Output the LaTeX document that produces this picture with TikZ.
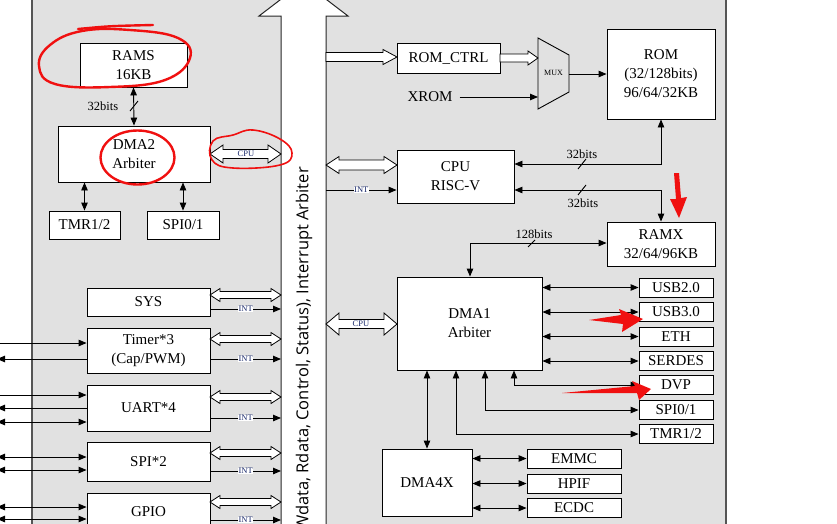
\documentclass[tikz,border=0pt]{standalone}
\usepackage{fontspec}
\setmainfont{Liberation Serif}
\newfontfamily\busfont{Open Sans}
\usetikzlibrary{arrows.meta,calc}
\definecolor{bggray}{HTML}{E1E1E1}
\definecolor{edgegray}{HTML}{555555}
\definecolor{navy}{HTML}{1A2A6C}
\definecolor{mark}{HTML}{F01010}
\tikzset{
  box/.style={draw=black, fill=white, line width=0.9pt, inner sep=0pt, align=center,
    font=\fontsize{15}{19}\selectfont},
  conn/.style={draw=black, line width=0.9pt},
  hollow/.style={draw=black, fill=white, line width=0.8pt, line join=miter},
  lbl/.style={inner sep=0pt, font=\fontsize{12.5}{14}\selectfont},
  tiny/.style={fill=white, inner sep=0.6pt, text=navy, font=\fontsize{8.5}{9}\selectfont},
  redmark/.style={draw=mark, line width=2.4pt, line cap=round, line join=round},
  redfill/.style={fill=mark},
  >={Triangle[length=8pt,width=6.5pt]}
}
\newcommand\hollowLR[6]{\draw[hollow] (#1,#3) -- ({#1+#6},{#3-#5}) -- ({#1+#6},{#3-#4}) -- ({#2-#6},{#3-#4}) -- ({#2-#6},{#3-#5}) -- (#2,#3) -- ({#2-#6},{#3+#5}) -- ({#2-#6},{#3+#4}) -- ({#1+#6},{#3+#4}) -- ({#1+#6},{#3+#5}) -- cycle;}
\newcommand\hollowR[6]{\draw[hollow] (#1,{#3-#4}) -- ({#2-#6},{#3-#4}) -- ({#2-#6},{#3-#5}) -- (#2,#3) -- ({#2-#6},{#3+#5}) -- ({#2-#6},{#3+#4}) -- (#1,{#3+#4}) -- cycle;}
\begin{document}
\begin{tikzpicture}[x=1pt,y=-1pt]
\useasboundingbox (0,0) rectangle (837,523);
\clip (0,0) rectangle (837,523);
\fill[white] (0,0) rectangle (837,523);
% gray chip area
\fill[bggray] (32,-5) rectangle (726,530);
\draw[edgegray, line width=1.3pt] (32,-5) -- (32,530) (726,-5) -- (726,530);
% bus
\draw[hollow, draw=black!85, line width=1pt] (281,530) -- (281,16) -- (259,16) -- (303.5,-18) -- (348,16) -- (326,16) -- (326,530);
\node[rotate=90, anchor=east, inner sep=0pt, font=\busfont\fontsize{16.5}{19}\selectfont] (bustext) at (304,167) {(Wdata, Rdata, Control, Status), Interrupt Arbiter};
\coordinate (busL) at (281,0);
\coordinate (busR) at (326,0);

% ---------- left column ----------
\node[box, minimum width=107pt, minimum height=44pt] (rams) at (133.5,65) {RAMS\\16KB};
\node[box, minimum width=152pt, minimum height=56pt] (dma2) at (134,154) {DMA2\\Arbiter};
\node[box, minimum width=71pt, minimum height=28pt] (tmrL) at (84.5,225) {TMR1/2};
\node[box, minimum width=72pt, minimum height=28pt] (spiL) at (183,225) {SPI0/1};
\draw[conn,<->] (rams.south) -- (dma2.north);
\draw[conn] (130,111) -- (138,101);
\node[lbl] (b32a) at (103,106) {32bits};
\draw[conn,<->] (tmrL.north |- dma2.south) -- (tmrL.north);
\draw[conn,<->] (spiL.north |- dma2.south) -- (spiL.north);
\hollowLR{210}{281}{154}{4.5}{9}{13}
\node[tiny] (cpuA) at (246,154) {CPU};

% peripherals
\node[box, minimum width=123pt, minimum height=28pt] (sys) at (148.5,302) {SYS};
\node[box, minimum width=123pt, minimum height=45pt] (timer) at (148.5,350.5) {Timer*3\\(Cap/PWM)};
\node[box, minimum width=123pt, minimum height=46pt] (uart) at (148.5,408) {UART*4};
\node[box, minimum width=123pt, minimum height=39pt] (spi2) at (148.5,461.5) {SPI*2};
\node[box, minimum width=123pt, minimum height=38pt] (gpio) at (148.5,512) {GPIO};

\hollowLR{210}{281}{295}{3.5}{6.5}{10}
\hollowLR{210}{281}{339}{3.5}{6.5}{10}
\hollowLR{210}{281}{397}{3.5}{6.5}{10}
\hollowLR{210}{281}{453}{3.5}{6.5}{10}
\hollowLR{210}{281}{502}{3.5}{6.5}{10}
\draw[conn,->] (sys.east |- 0,309) -- (busL |- 0,309) node[tiny, midway] {INT};
\draw[conn,->] (timer.east |- 0,359) -- (busL |- 0,359) node[tiny, midway] {INT};
\draw[conn,->] (uart.east |- 0,418) -- (busL |- 0,418) node[tiny, midway] {INT};
\draw[conn,->] (spi2.east |- 0,471) -- (busL |- 0,471) node[tiny, midway] {INT};
\draw[conn,->] (gpio.east |- 0,520) -- (busL |- 0,520) node[tiny, midway] {INT};

% external pins
\draw[conn,->] (-10,343) -- (timer.west |- 0,343);
\draw[conn,->] (timer.west |- 0,359) -- (-3,359);
\draw[conn,->] (-10,395) -- (uart.west |- 0,395);
\draw[conn,->] (uart.west |- 0,408) -- (-3,408);
\draw[conn,<->] (-3,422) -- (uart.west |- 0,422);
\draw[conn,<->] (-3,457) -- (spi2.west |- 0,457);
\draw[conn,<->] (-3,470) -- (spi2.west |- 0,470);
\draw[conn,<->] (-3,507) -- (gpio.west |- 0,507);
\draw[conn,<->] (-3,519) -- (gpio.west |- 0,519);

% ---------- right column ----------
\node[box, minimum width=103pt, minimum height=30pt] (romctrl) at (448.5,58) {ROM\_CTRL};
\hollowR{326}{397}{57}{4.5}{7.5}{14}
\hollowR{500}{538}{58}{4}{7}{10}
\draw[black, line width=0.9pt] (538,38) -- (569,55) -- (569,92) -- (538,109) -- cycle;
\node[inner sep=0pt, font=\fontsize{8}{9}\selectfont] (mux) at (553.5,73) {MUX};
\coordinate (muxin) at (538,97);
\coordinate (muxout) at (569,74);
\node[inner sep=2pt, font=\fontsize{15}{19}\selectfont] (xrom) at (430,97) {XROM};
\draw[conn,->] ([xshift=5pt]xrom.east |- muxin) -- (muxin);
\node[box, minimum width=108pt, minimum height=90pt] (rom) at (661,74) {ROM\\(32/128bits)\\96/64/32KB};
\draw[conn,->] (muxout) -- (rom.west |- muxout);

\node[box, minimum width=117pt, minimum height=53pt] (cpu) at (455.5,176.5) {CPU\\RISC-V};
\hollowLR{326}{397}{165}{5}{8.5}{13}
\draw[conn,->] (busR |- 0,190) -- (cpu.west |- 0,190) node[tiny, midway] {INT};
\node[box, minimum width=108pt, minimum height=44pt] (ramx) at (661,244) {RAMX\\32/64/96KB};
\draw[conn,<->] (cpu.east |- 0,164) -| (rom.south);
\draw[conn] (578,169) -- (586,159);
\node[lbl] (b32b) at (582,154) {32bits};
\draw[conn,<->] (cpu.east |- 0,190) -| (ramx.north);
\draw[conn] (578,195) -- (586,185);
\node[lbl] (b32c) at (583,203) {32bits};

\node[box, minimum width=145pt, minimum height=93pt] (dma1) at (469.5,323.5) {DMA1\\Arbiter};
\hollowLR{326}{397}{324}{4.5}{11}{13}
\node[tiny] (cpuB) at (361,324) {CPU};
\draw[conn,<->] (ramx.west |- 0,243) -| (470,0 |- dma1.north);
\draw[conn] (528,247) -- (535,240);
\node[lbl] (b128) at (534,234) {128bits};

\foreach \n/\t/\y in {usb2/{USB2.0}/287.5, usb3/{USB3.0}/312, eth/{ETH}/336.5, serdes/{SERDES}/361, dvp/{DVP}/385, spiR/{SPI0/1}/410, tmrR/{TMR1/2}/434}{
  \node[box, minimum width=74pt, minimum height=19pt] (\n) at (676,\y) {\t};
}
\draw[conn,<->] (dma1.east |- usb2) -- (usb2.west);
\draw[conn,<->] (dma1.east |- usb3) -- (usb3.west);
\draw[conn,<->] (dma1.east |- eth) -- (eth.west);
\draw[conn,<->] (dma1.east |- serdes) -- (serdes.west);
\draw[conn,<->] (514,0 |- dma1.south) |- (dvp.west);
\draw[conn,<->] (485,0 |- dma1.south) |- (spiR.west);
\draw[conn,<->] (456,0 |- dma1.south) |- (tmrR.west);

\node[box, minimum width=90pt, minimum height=67pt] (dma4x) at (427,482.5) {DMA4X};
\draw[conn,<->] (dma4x.north |- dma1.south) -- (dma4x.north);
\node[box, minimum width=94pt, minimum height=19pt] (emmc) at (574,458.5) {EMMC};
\node[box, minimum width=94pt, minimum height=19pt] (hpif) at (574,483.5) {HPIF};
\node[box, minimum width=94pt, minimum height=19pt] (ecdc) at (574,508) {ECDC};
\draw[conn,<->] (dma4x.east |- emmc) -- (emmc.west);
\draw[conn,<->] (dma4x.east |- hpif) -- (hpif.west);
\draw[conn,<->] (dma4x.east |- ecdc) -- (ecdc.west);

% ---------- red annotations ----------
\draw[redmark] plot[smooth cycle, tension=0.7] coordinates {(82,31) (50,45) (39,66) (55,84) (110,87) (165,80) (190,58) (178,38) (130,30)};
\draw[redmark] (78,29) .. controls (110,26) .. (153,25);
\draw[redmark] (137.5,157.5) ellipse (37pt and 27pt);
\draw[redmark, line width=1.6pt] plot[smooth cycle, tension=0.7] coordinates {(233,135) (253,130) (280,139) (292,153) (280,165) (233,168) (212,160) (213,141)};
\fill[redfill] (674,173) -- (679,173) -- (681,198) -- (687,197) -- (679,218) -- (670,199) -- (676,199) -- cycle;
\fill[redfill] (589,320) -- (621,315) -- (619,309) -- (643,319) -- (622,332) -- (623,324) -- cycle;
\fill[redfill] (562,393) -- (635,386) -- (632,381) -- (651,389) -- (639,400) -- (637,393) -- cycle;
\end{tikzpicture}
\end{document}
